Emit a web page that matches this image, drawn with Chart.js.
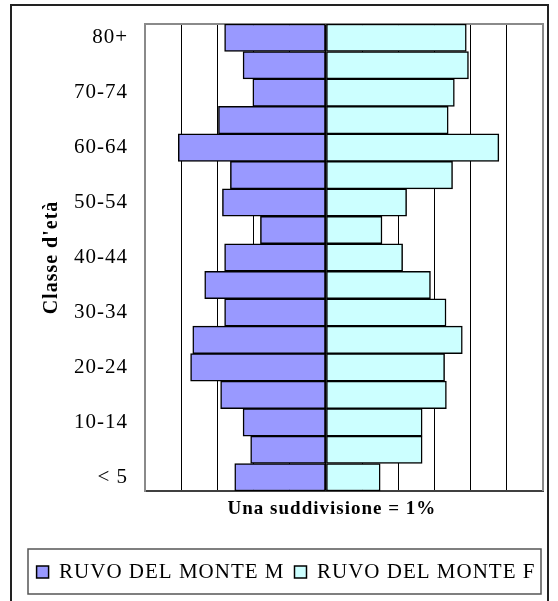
<!DOCTYPE html>
<html>
<head>
<meta charset="utf-8">
<title>Ruvo del Monte - piramide per età</title>
<script src="https://cdn.jsdelivr.net/npm/chart.js@4.4.1/dist/chart.umd.min.js"></script>
<style>
    html, body { margin: 0; padding: 0; background: #fff; }
    canvas { display: block; }
</style>
</head>
<body>
<canvas id="pyramidChart" width="558" height="601"></canvas>
<script>
// classi d'età, dal basso verso l'alto
var ageGroups = ['< 5', '5-9', '10-14', '15-19', '20-24', '25-29', '30-34', '35-39', '40-44',
                 '45-49', '50-54', '55-59', '60-64', '65-69', '70-74', '75-79', '80+'];

// percentuali
var maleValues   = [2.52, 2.08, 2.29, 2.91, 3.74, 3.68, 2.80, 3.35, 2.80, 1.81, 2.86, 2.64, 4.08, 2.97, 2.02, 2.29, 2.80];
var femaleValues = [1.50, 2.66, 2.66, 3.33, 3.28, 3.77, 3.32, 2.89, 2.12, 1.55, 2.23, 3.50, 4.78, 3.38, 3.55, 3.94, 3.88];

var seriesNames = ['RUVO DEL MONTE M', 'RUVO DEL MONTE F'];
var axisTitleY = "Classe d'età";
var axisTitleX = 'Una suddivisione = 1%';

var serif = '"Liberation Serif", "Times New Roman", serif';

// il testo del grafico originale è un po' spaziato
function spacing(chart) {
    chart.ctx.letterSpacing = '1px';
}

// cornici: bordo esterno, riquadro del grafico, titolo asse x, riquadro legenda
var frames = {
    id: 'frames',
    beforeUpdate: spacing,
    afterLayout: function(chart) {
        // legenda un po' più a destra, come nell'originale
        chart.legend.left += 9;
        chart.legend.right += 9;
    },
    beforeDraw: function(chart) {
        spacing(chart);
        var ctx = chart.ctx;
        ctx.save();
        ctx.strokeStyle = '#222';
        ctx.lineWidth = 2;
        ctx.strokeRect(11, 5, chart.width - 21, chart.height + 20);
        ctx.restore();
    },
    beforeDatasetsDraw: function(chart) {
        var a = chart.chartArea;
        var ctx = chart.ctx;
        ctx.save();
        ctx.strokeStyle = '#8a8a8a';
        ctx.lineWidth = 2;
        ctx.beginPath();
        ctx.moveTo(a.left, a.top);
        ctx.lineTo(a.right, a.top);
        ctx.lineTo(a.right, a.bottom);
        ctx.stroke();
        ctx.restore();
    },
    afterDraw: function(chart) {
        var ctx = chart.ctx;
        var a = chart.chartArea;
        var x0 = chart.scales.x.getPixelForValue(0);
        ctx.save();
        ctx.font = 'bold 19px ' + serif;
        ctx.fillStyle = '#000';
        ctx.textAlign = 'center';
        ctx.textBaseline = 'middle';
        ctx.fillText(axisTitleX, x0 + 6, a.bottom + 18);

        var lg = chart.legend;
        ctx.strokeStyle = '#555';
        ctx.lineWidth = 1.5;
        ctx.strokeRect(lg.left + 8, lg.top - 2.5, lg.width - 19, 45);
        ctx.restore();
    }
};

var ctx = document.getElementById('pyramidChart').getContext('2d');
var chart = new Chart(ctx, {
    type: 'bar',
    data: {
        labels: ageGroups,
        datasets: [{
            label: seriesNames[0],
            data: maleValues.map(function(v) { return -v; }),
            backgroundColor: '#9999ff',
            borderColor: '#000',
            borderWidth: 1.5,
            borderSkipped: false,
            barPercentage: 1,
            categoryPercentage: 1
        }, {
            label: seriesNames[1],
            data: femaleValues,
            backgroundColor: '#ccffff',
            borderColor: '#000',
            borderWidth: 1.5,
            borderSkipped: false,
            barPercentage: 1,
            categoryPercentage: 1
        }]
    },
    options: {
        indexAxis: 'y',
        responsive: false,
        animation: false,
        layout: {
            padding: { left: 11, right: 15, top: 24, bottom: 8.5 }
        },
        plugins: {
            tooltip: { enabled: false },
            legend: {
                position: 'bottom',
                labels: {
                    boxWidth: 12,
                    boxHeight: 12,
                    padding: 10,
                    color: '#000',
                    font: { family: serif, size: 21 }
                }
            }
        },
        scales: {
            x: {
                stacked: true,
                min: -5,
                max: 6,
                ticks: { stepSize: 1, display: false },
                grid: { color: '#000', lineWidth: 1, drawTicks: false },
                border: { color: '#404040', width: 2 },
                afterFit: function(scale) {
                    scale.height = 60.5;
                }
            },
            y: {
                stacked: true,
                reverse: true,
                grid: { display: false, drawTicks: false },
                border: { color: '#8a8a8a', width: 2 },
                ticks: {
                    autoSkip: false,
                    padding: 17,
                    color: '#000',
                    font: { family: serif, size: 21 },
                    callback: function(value, index) {
                        return index % 2 === 0 ? this.getLabelForValue(value) : '';
                    }
                },
                title: {
                    display: true,
                    text: axisTitleY,
                    color: '#000',
                    font: { family: serif, size: 20, weight: 'bold' },
                    padding: { top: 29, bottom: 0 }
                },
                afterFit: function(scale) {
                    scale.width = 134;
                    scale.paddingTop = 0;
                    scale.paddingBottom = 0;
                }
            }
        }
    },
    plugins: [frames]
});
</script>
</body>
</html>
